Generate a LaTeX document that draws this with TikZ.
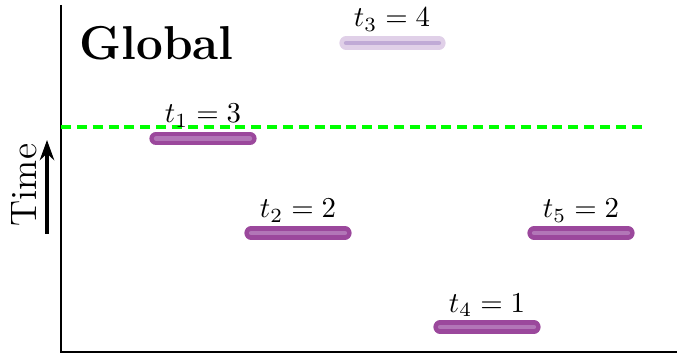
\documentclass[tikz,border=0pt]{standalone}
\usetikzlibrary{arrows.meta}
\definecolor{barout}{RGB}{155,72,156}
\definecolor{barin}{RGB}{178,118,183}
\definecolor{fadeout}{RGB}{224,208,232}
\definecolor{fadein}{RGB}{192,170,214}
\definecolor{glob}{RGB}{0,255,0}
\tikzset{
  axisline/.style={line width=0.95pt, black},
  barouter/.style={line width=4.6pt, line cap=round, barout},
  barinner/.style={line width=1.5pt, line cap=round, barin},
  fadeouter/.style={line width=4.6pt, line cap=round, fadeout},
  fadeinner/.style={line width=1.5pt, line cap=round, fadein},
  lbl/.style={anchor=base, inner sep=0pt, font=\fontsize{10}{12}\selectfont},
  globline/.style={line width=1.1pt, glob, dash pattern=on 3.5pt off 2pt},
}
\begin{document}
\begin{tikzpicture}[x=0.347pt, y=-0.347pt]
\useasboundingbox (0,0) rectangle (691,358);
% axes
\coordinate (top) at (61,5);
\coordinate (orig) at (61,352);
\coordinate (right) at (677,352);
\draw[axisline] (top) -- (orig) -- (right);
% title
\node[anchor=base west, inner sep=0pt, font=\fontsize{16.5}{19}\selectfont\bfseries] (title) at (79,60) {Global};
% time label and arrow
\node[rotate=90, inner sep=0pt, font=\fontsize{12.8}{15}\selectfont] (time) at (24,185) {Time};
\coordinate (ta) at (47,234);
\coordinate (tb) at (47,140);
\draw[line width=1.15pt, -{Stealth[length=7pt,width=5pt]}] (ta) -- (tb);
% global line
\coordinate (ga) at (61,127);
\coordinate (gb) at (645,127);
\draw[globline] (ga) -- (gb);
% bars
\coordinate (a1) at (156,138.5); \coordinate (b1) at (250,138.5);
\coordinate (a2) at (251,233); \coordinate (b2) at (345,233);
\coordinate (a3) at (346,43);  \coordinate (b3) at (439,43);
\coordinate (a4) at (440,327); \coordinate (b4) at (534,327);
\coordinate (a5) at (534,233); \coordinate (b5) at (628,233);
\draw[fadeouter] (a3) -- (b3); \draw[fadeinner] (a3) -- (b3);
\foreach \i in {1,2,4,5}{
  \draw[barouter] (a\i) -- (b\i);
  \draw[barinner] (a\i) -- (b\i);
}
% labels
\node[lbl] (l1) at (203,123) {$t_1 = 3$};
\node[lbl] (l2) at (298,218) {$t_2 = 2$};
\node[lbl] (l3) at (392,27) {$t_3 = 4$};
\node[lbl] (l4) at (487,312) {$t_4 = 1$};
\node[lbl] (l5) at (581,218) {$t_5 = 2$};
\end{tikzpicture}
\end{document}
